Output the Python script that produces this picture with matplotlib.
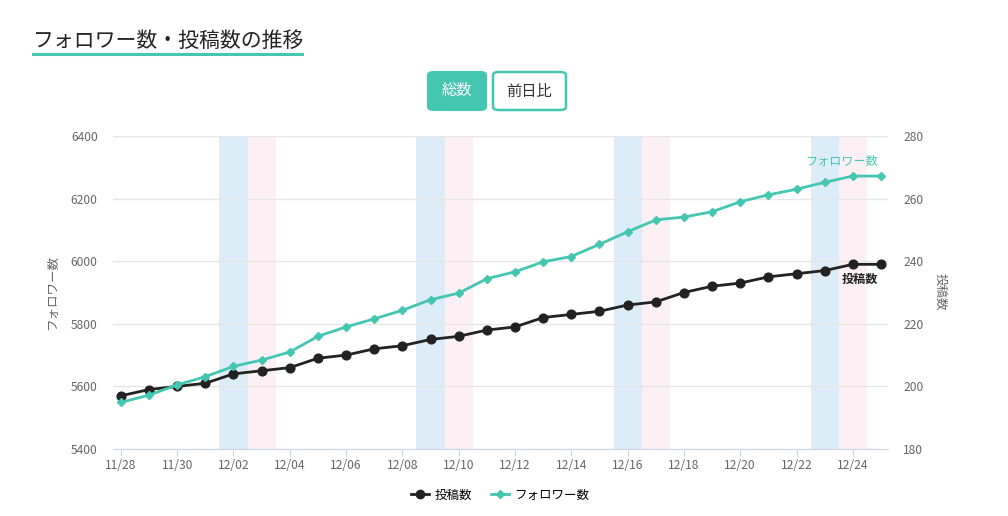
import matplotlib
matplotlib.use("Agg")
import matplotlib.pyplot as plt
from matplotlib.patches import FancyBboxPatch
from matplotlib.lines import Line2D

plt.rcParams['font.family'] = ['Noto Sans CJK JP', 'DejaVu Sans']

dates = ["11/28", "11/29", "11/30", "12/01", "12/02", "12/03", "12/04", "12/05",
         "12/06", "12/07", "12/08", "12/09", "12/10", "12/11", "12/12", "12/13",
         "12/14", "12/15", "12/16", "12/17", "12/18", "12/19", "12/20", "12/21",
         "12/22", "12/23", "12/24", "12/25"]
followers = [5549, 5572, 5605, 5631, 5664, 5684, 5710, 5760, 5790, 5816, 5843,
             5877, 5898, 5944, 5966, 5998, 6015, 6054, 6094, 6132, 6141, 6158,
             6190, 6212, 6230, 6252, 6272, 6272]
posts = [197, 199, 200, 201, 204, 205, 206, 209, 210, 212, 213, 215, 216, 218,
         219, 222, 223, 224, 226, 227, 230, 232, 233, 235, 236, 237, 239, 239]
saturdays = ["12/02", "12/09", "12/16", "12/23"]
sundays = ["12/03", "12/10", "12/17", "12/24"]
left_ticks = [5400, 5600, 5800, 6000, 6200, 6400]
right_ticks = [180, 200, 220, 240, 260, 280]

TEAL = "#45c6b1"
BLACK = "#222222"
W, H = 1008, 516

fig = plt.figure(figsize=(W / 100, H / 100), dpi=100)
fig.patch.set_facecolor("white")

ax = fig.add_axes([113 / W, 1 - 449 / H, (888 - 113) / W, (449 - 136) / H])
ax2 = ax.twinx()
ax.set_zorder(ax2.get_zorder() + 1)
ax.patch.set_visible(False)

x = list(range(len(dates)))
for d in saturdays:
    i = dates.index(d)
    ax2.axvspan(i - 0.5, i + 0.5, color="#dcedf7", lw=0, zorder=0)
for d in sundays:
    i = dates.index(d)
    ax2.axvspan(i - 0.5, i + 0.5, color="#fdf0f4", lw=0, zorder=0)

ax2.plot(x, posts, color=BLACK, lw=2, marker="o", markersize=6.3, zorder=3)
ax.plot(x, followers, color=TEAL, lw=2, marker="D", markersize=4.3, zorder=3)

ax.set_xlim(-0.28, 27.25)
ax.set_ylim(5400, 6400)
ax2.set_ylim(180, 280)
ax.set_yticks(left_ticks)
ax2.set_yticks(right_ticks)
ax2.grid(axis="y", color="#e6e6e6", lw=1, zorder=1)
ax2.set_axisbelow(True)

ax.set_xticks(x[::2])
ax.set_xticklabels(dates[::2])

for a in (ax, ax2):
    for s in a.spines.values():
        s.set_visible(False)
ax.spines["bottom"].set_visible(True)
ax.spines["bottom"].set_color("#ccd6eb")
ax.tick_params(axis="x", colors="#ccd6eb", labelcolor="#666666", length=5,
               labelsize=8.7, pad=2.5)
ax.tick_params(axis="y", length=0, labelcolor="#666666", labelsize=8.7, pad=11)
ax2.tick_params(axis="y", length=0, labelcolor="#666666", labelsize=8.7, pad=11)

fig.text(53 / W, 1 - 292 / H, "フォロワー数", rotation=90, ha="center", va="center",
         fontsize=9, color="#666666")
fig.text(940 / W, 1 - 292 / H, "投稿数", rotation=-90, ha="center", va="center",
         fontsize=9, color="#666666")

# end labels
ax.annotate("フォロワー数", xy=(x[-1], followers[-1]), xytext=(-2, 6),
            textcoords="offset points", ha="right", va="bottom",
            color=TEAL, fontsize=8.7, zorder=5)
ax2.annotate("投稿数", xy=(x[-1], posts[-1]), xytext=(-2, -6),
             textcoords="offset points", ha="right", va="top",
             color=BLACK, fontsize=8.7, fontweight="bold", zorder=5)

# title
fig.text(33 / W, 1 - 41 / H, "フォロワー数・投稿数の推移", ha="left", va="center",
         fontsize=15, color="#222222")
fig.add_artist(Line2D([33 / W, 302 / W], [1 - 53.5 / H, 1 - 53.5 / H],
                      color=TEAL, lw=2.2, transform=fig.transFigure))

# buttons
b1 = FancyBboxPatch((428 / W, 1 - 110 / H), 58 / W, 38 / H,
                    boxstyle="round,pad=0,rounding_size=0.006",
                    transform=fig.transFigure, facecolor=TEAL, edgecolor=TEAL, lw=1.5)
b2 = FancyBboxPatch((493 / W, 1 - 110 / H), 73 / W, 38 / H,
                    boxstyle="round,pad=0,rounding_size=0.006",
                    transform=fig.transFigure, facecolor="white", edgecolor=TEAL, lw=1.8)
fig.add_artist(b1)
fig.add_artist(b2)
fig.text(457 / W, 1 - 91 / H, "総数", ha="center", va="center", fontsize=11,
         color="white")
fig.text(529.5 / W, 1 - 91 / H, "前日比", ha="center", va="center", fontsize=11,
         color="#333333")

# legend
handles = [Line2D([], [], color=BLACK, lw=2, marker="o", markersize=6),
           Line2D([], [], color=TEAL, lw=2, marker="D", markersize=4)]
fig.legend(handles, ["投稿数", "フォロワー数"], loc="center",
           bbox_to_anchor=(500 / W, 1 - 495 / H), ncol=2, frameon=False,
           fontsize=9, handlelength=1.5, columnspacing=1.5, handletextpad=0.4)

fig.savefig("out.png", dpi=100, facecolor="white")
